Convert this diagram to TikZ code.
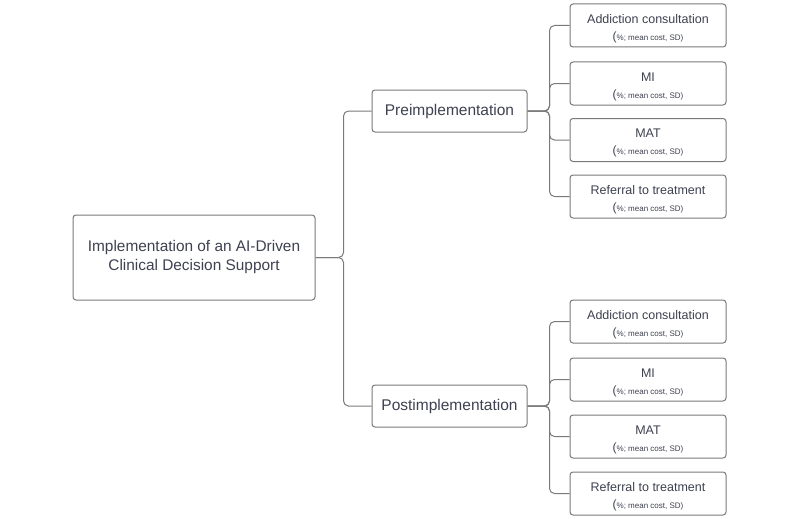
\documentclass[tikz,border=0pt]{standalone}
\usepackage{fontspec}
\setmainfont{Liberation Sans}
\usepackage{tikz}
\usetikzlibrary{calc}
\definecolor{boxline}{HTML}{7A7A7A}
\definecolor{txt}{HTML}{3E4150}
\tikzset{
  box/.style={draw=boxline, line width=1pt, rounded corners=3pt, fill=white,
    text=txt, align=center, inner sep=2pt},
  rootbox/.style={box, minimum width=242pt, minimum height=85pt,
    font=\fontsize{15.4}{19}\selectfont},
  phasebox/.style={box, minimum width=155pt, minimum height=42pt,
    font=\fontsize{15.5}{18}\selectfont},
  leafbox/.style={box, minimum width=156pt, minimum height=43pt,
    font=\fontsize{12.5}{16}\selectfont},
  conn/.style={draw=boxline, line width=1pt, rounded corners=5pt},
}
\newcommand{\costline}{{\fontsize{12}{12}\selectfont(}{\fontsize{8}{9}\selectfont\%; mean cost, SD)}}

\begin{document}
\begin{tikzpicture}[x=1pt, y=-1pt]
    \useasboundingbox (0,0) rectangle (800,519);

    \node[rootbox] (root) at (194,257.5) {Implementation of an AI-Driven\\Clinical Decision Support};
    \node[phasebox] (pre) at (449.5,111) {Preimplementation};
    \node[phasebox] (post) at (449.5,406) {Postimplementation};

    \draw[conn] (root.east) -- ++(28,0) |- (pre.west);
    \draw[conn] (root.east) -- ++(28,0) |- (post.west);

    \foreach \t/\yp/\yq [count=\i] in {Addiction consultation/25.5/321.5, MI/83.5/379.5,
        MAT/140/436.5, Referral to treatment/196.5/493.5} {
      \node[leafbox] (pre\i) at (648,\yp) {\rule{0pt}{15pt}\t\\[1pt]\costline};
      \node[leafbox] (post\i) at (648,\yq) {\rule{0pt}{15pt}\t\\[1pt]\costline};
      \draw[conn] (pre.east) -- ++(22,0) |- (pre\i.west);
      \draw[conn] (post.east) -- ++(22,0) |- (post\i.west);
    }
  \end{tikzpicture}
\end{document}
